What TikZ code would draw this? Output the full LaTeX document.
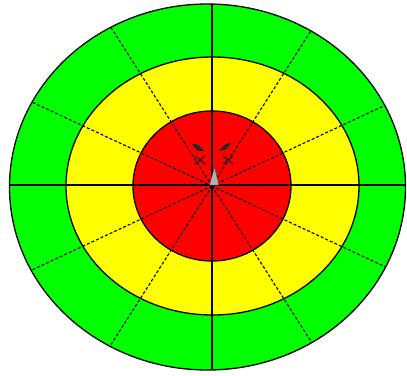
\documentclass[tikz,border=0pt]{standalone}
\begin{document}
\begin{tikzpicture}[x=1pt,y=-1pt,
  ring/.style={draw=black,line width=1.3pt},
  axis/.style={draw=black,line width=1.3pt},
  spoke/.style={draw=black,line width=1.1pt,dash pattern=on 3pt off 2pt},
  blotch/.style={fill=black!85}]
\definecolor{tgreen}{HTML}{00FF00}
\definecolor{tyellow}{HTML}{FFFF00}
\definecolor{tred}{HTML}{FF0000}
\useasboundingbox (0,0) rectangle (407,375);
\coordinate (c) at (212,186);
% rings
\path[ring,fill=tgreen] (207.5,187) ellipse [x radius=198, y radius=183];
\path[ring,fill=tyellow] (212.5,186) ellipse [x radius=146.5, y radius=129];
\path[ring,fill=tred] (212,186) ellipse [x radius=79, y radius=75];
% dashed spokes
\begin{scope}
\clip (207.5,187) ellipse [x radius=198, y radius=183];
\foreach \a in {25,57.5,122.5,155,205,237.5,302.5,335}
  \draw[spoke] (c) -- ++({250*cos(\a)},{-250*sin(\a)});
\end{scope}
% axes
\coordinate (top) at (212,4);
\coordinate (bot) at (212,370);
\coordinate (lft) at (9,185);
\coordinate (rgt) at (406,185);
\draw[axis] (top) -- (bot);
\draw[axis] (lft) -- (rgt);
% central marks
\fill[blotch] (192,144) .. controls (198,144) .. (204,151) .. controls (197,151) .. cycle;
\fill[blotch] (231,143) .. controls (225,144) .. (219,151) .. controls (226,150) .. cycle;
\draw[black!85,line width=1.3pt] (195,156) -- (205,164) (195,164) -- (205,156);
\draw[black!85,line width=1.3pt] (223,156) -- (233,164) (223,164) -- (233,156);
\fill[gray!60,draw=black!70,line width=0.5pt] (214.5,167) -- (209.5,185) -- (219,185) -- cycle;
\end{tikzpicture}
\end{document}
